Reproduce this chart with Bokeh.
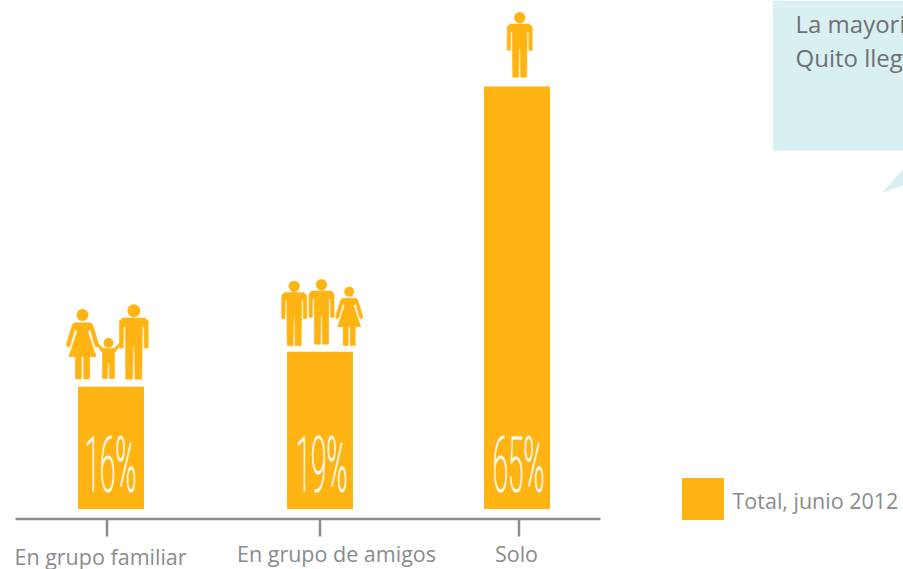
from bokeh.plotting import figure
from bokeh.models import Range1d, CustomJS
from bokeh.core.properties import value
from bokeh.document import Document
from bokeh.embed import file_html
from bokeh.resources import INLINE

categories = ["En grupo familiar", "En grupo de amigos", "Solo"]
percent_labels = ["16%", "19%", "65%"]
bar_heights = [18.8, 24.2, 65.0]
legend_label = "Total, junio 2012"
note_lines = ["La mayori", "Quito lleg"]

ORANGE = "#ffb413"
GRAY = "#8a8b8e"
PALE = "#d9f0f3"

W, H = 903, 569
BASE_PX, PX_PER_UNIT = 508.5, 6.5

p = figure(width=W, height=H, output_backend="svg", toolbar_location=None,
           x_range=Range1d(0, W),
           y_range=Range1d((BASE_PX - H) / PX_PER_UNIT, BASE_PX / PX_PER_UNIT),
           min_border=0, outline_line_color=None, margin=0)
p.xaxis.visible = False
p.yaxis.visible = False
p.grid.visible = False
p.extra_y_ranges["px"] = Range1d(H, 0)

bar_lefts = [77.5, 286.5, 483.5]
p.vbar(x=[l + 33 for l in bar_lefts], width=66, bottom=0, top=bar_heights,
       fill_color=ORANGE, line_color=None)

PX = dict(y_range_name="px")

# callout
p.quad(left=[772.5], right=[W], top=[0], bottom=[150], fill_color=PALE, line_color=None, **PX)
p.patch([882, 903, 903], [192, 168, 185], fill_color=PALE, line_color=None, **PX)
p.text(x=[795, 795], y=[23, 57], text=note_lines, text_font=value("Open Sans"),
       text_font_size="24px", text_color="#6f7073", text_baseline="middle", **PX)

# axis
p.segment([15], [518.5], [600], [518.5], line_color=GRAY, line_width=2.5, **PX)
p.segment([106.5, 319.5, 518.5], [518.5] * 3, [106.5, 319.5, 518.5], [536] * 3,
          line_color=GRAY, line_width=2.5, **PX)
p.text(x=[100, 336, 516], y=[556, 553, 553], text=categories, text_font=value("Open Sans"),
       text_font_size="21.5px", text_color=GRAY, text_align="center", text_baseline="middle", **PX)

# percent
p.text(x=[110, 321, 518], y=[465, 465, 465], text=percent_labels,
       text_font=value("Roboto Thin"), text_font_size="76px",
       text_color="white", text_align="center", text_baseline="middle", **PX)

# legend
p.quad(left=[681.5], right=[723.5], top=[477.5], bottom=[519.5], fill_color=ORANGE, line_color=None, **PX)
p.text(x=[732], y=[500], text=[legend_label], text_font=value("Open Sans"),
       text_font_size="21.5px", text_color=GRAY, text_baseline="middle", **PX)


def mirror(half):
    return half + [(-x, y) for x, y in reversed(half)]


MAN = mirror([(0.5, 6.3), (9.5, 6.3), (12.5, 9), (12.5, 32.5), (9.2, 32.5), (9, 14), (7.4, 14),
              (7, 59.5), (1, 59.5), (0.6, 31), (0, 31)])
WOMAN = mirror([(0, 6.5), (6.5, 6.5), (8.5, 8), (13.8, 25.5), (12, 27), (10.5, 26), (6.5, 12), (4.5, 14), (11.5, 35),
                (6, 35), (6, 53.7), (1, 53.7), (1, 35), (0, 35)])
CHILD = mirror([(0, 5.5), (5.5, 5.5), (10.5, 0.5), (11.5, 2), (6, 10), (6, 35.5), (1, 35.5), (0.6, 20), (0, 20)])
HEAD_R = {"man": 5.6, "woman": 5.0, "child": 5.0}
SHAPE = {"man": MAN, "woman": WOMAN, "child": CHILD}


def person(kind, cx, cy, s=1.0):
    pts = SHAPE[kind]
    p.patch([cx + s * a for a, _ in pts], [cy + s * b for _, b in pts], fill_color=ORANGE,
            line_color=ORANGE, line_width=0.6, line_join="round", **PX)
    p.scatter([cx], [cy], size=2 * HEAD_R[kind] * s, fill_color=ORANGE, line_color=None, **PX)


person("woman", 82, 314.5, 1.19)
person("child", 108, 342.5, 1.0)
person("man", 133.3, 310.2, 1.15)
person("man", 293.7, 285.8)
person("man", 321, 284.2)
person("woman", 348.7, 291.2)
person("man", 519.2, 17.2)

# The original's percent labels use an ultra-condensed face: squeeze the real text horizontally.
squeeze = CustomJS(code="""
function walk(root, out) {
  root.querySelectorAll('*').forEach(el => {
    if (el.tagName === 'text' && /^\\d+%$/.test(el.textContent)) out.push(el);
    if (el.shadowRoot) walk(el.shadowRoot, out);
  });
  return out;
}
function apply() {
  walk(document, []).forEach(t => {
    if (t.dataset.sq) return;
    const b = t.getBBox(), c = b.x + b.width / 2;
    const old = t.getAttribute('transform') || '';
    t.setAttribute('transform', `${old} translate(${c},0) scale(0.37,1) translate(${-c},0)`);
    t.style.stroke = 'white';
    t.style.strokeWidth = '0.9px';
    t.style.vectorEffect = 'non-scaling-stroke';
    t.dataset.sq = '1';
  });
}
let n = 0;
const id = setInterval(() => { apply(); if (++n > 40) clearInterval(id); }, 50);
""")
doc = Document()
doc.add_root(p)
doc.js_on_event("document_ready", squeeze)

open("out.html", "w").write(file_html(doc, INLINE))
